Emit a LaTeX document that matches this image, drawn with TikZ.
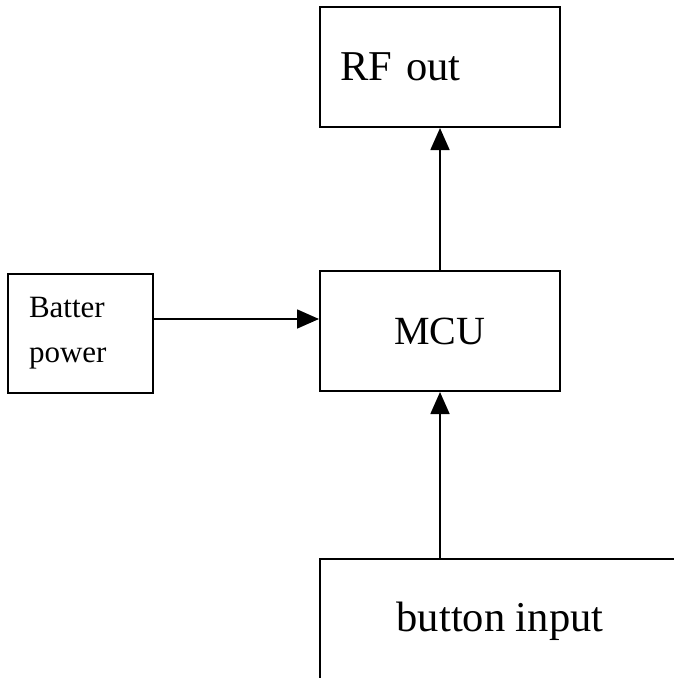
\documentclass[tikz,border=0pt]{standalone}
\usepackage{fontspec}
\setmainfont{Liberation Serif}
\usetikzlibrary{shapes.geometric, arrows.meta}

\begin{document}
\begin{tikzpicture}[node distance=264pt]
        \tikzstyle{block} = [rectangle, draw=black, line width=2pt, minimum width=240pt, minimum height=120pt, inner sep=0pt, text centered]
        \tikzstyle{small} = [rectangle, draw=black, line width=2pt, minimum width=145pt, minimum height=119pt, text width=103pt, inner xsep=21pt, align=left]
        \tikzstyle{arrow} = [line width=1.7pt, -{Triangle[length=22pt,width=19pt]}]

        \useasboundingbox (0,0) rectangle (674pt,-678pt);

        \node (mcu) [block, font=\fontsize{40}{48}\selectfont] at (440pt,-331pt) {MCU};
        \node (rfout) [block, above of=mcu, text width=200pt, inner xsep=20pt, align=left, font=\fontsize{42.5}{50}\selectfont] {RF out};
        \node (batter) [small, left of=mcu, xshift=-95.5pt, yshift=-2pt, font=\fontsize{31}{45}\selectfont] {Batter\\power};
        \node (button) [block, below of=mcu, xshift=60pt, yshift=-26pt, minimum width=360pt, minimum height=124pt, font=\fontsize{42.5}{50}\selectfont] {button input};

        \draw [arrow] (mcu) -- (rfout);
        \draw [arrow] ([yshift=12pt]mcu.west -| batter.east) -- ([yshift=12pt]mcu.west);
        \draw [arrow] (button.north -| mcu.south) -- (mcu.south);
    \end{tikzpicture}
\end{document}
